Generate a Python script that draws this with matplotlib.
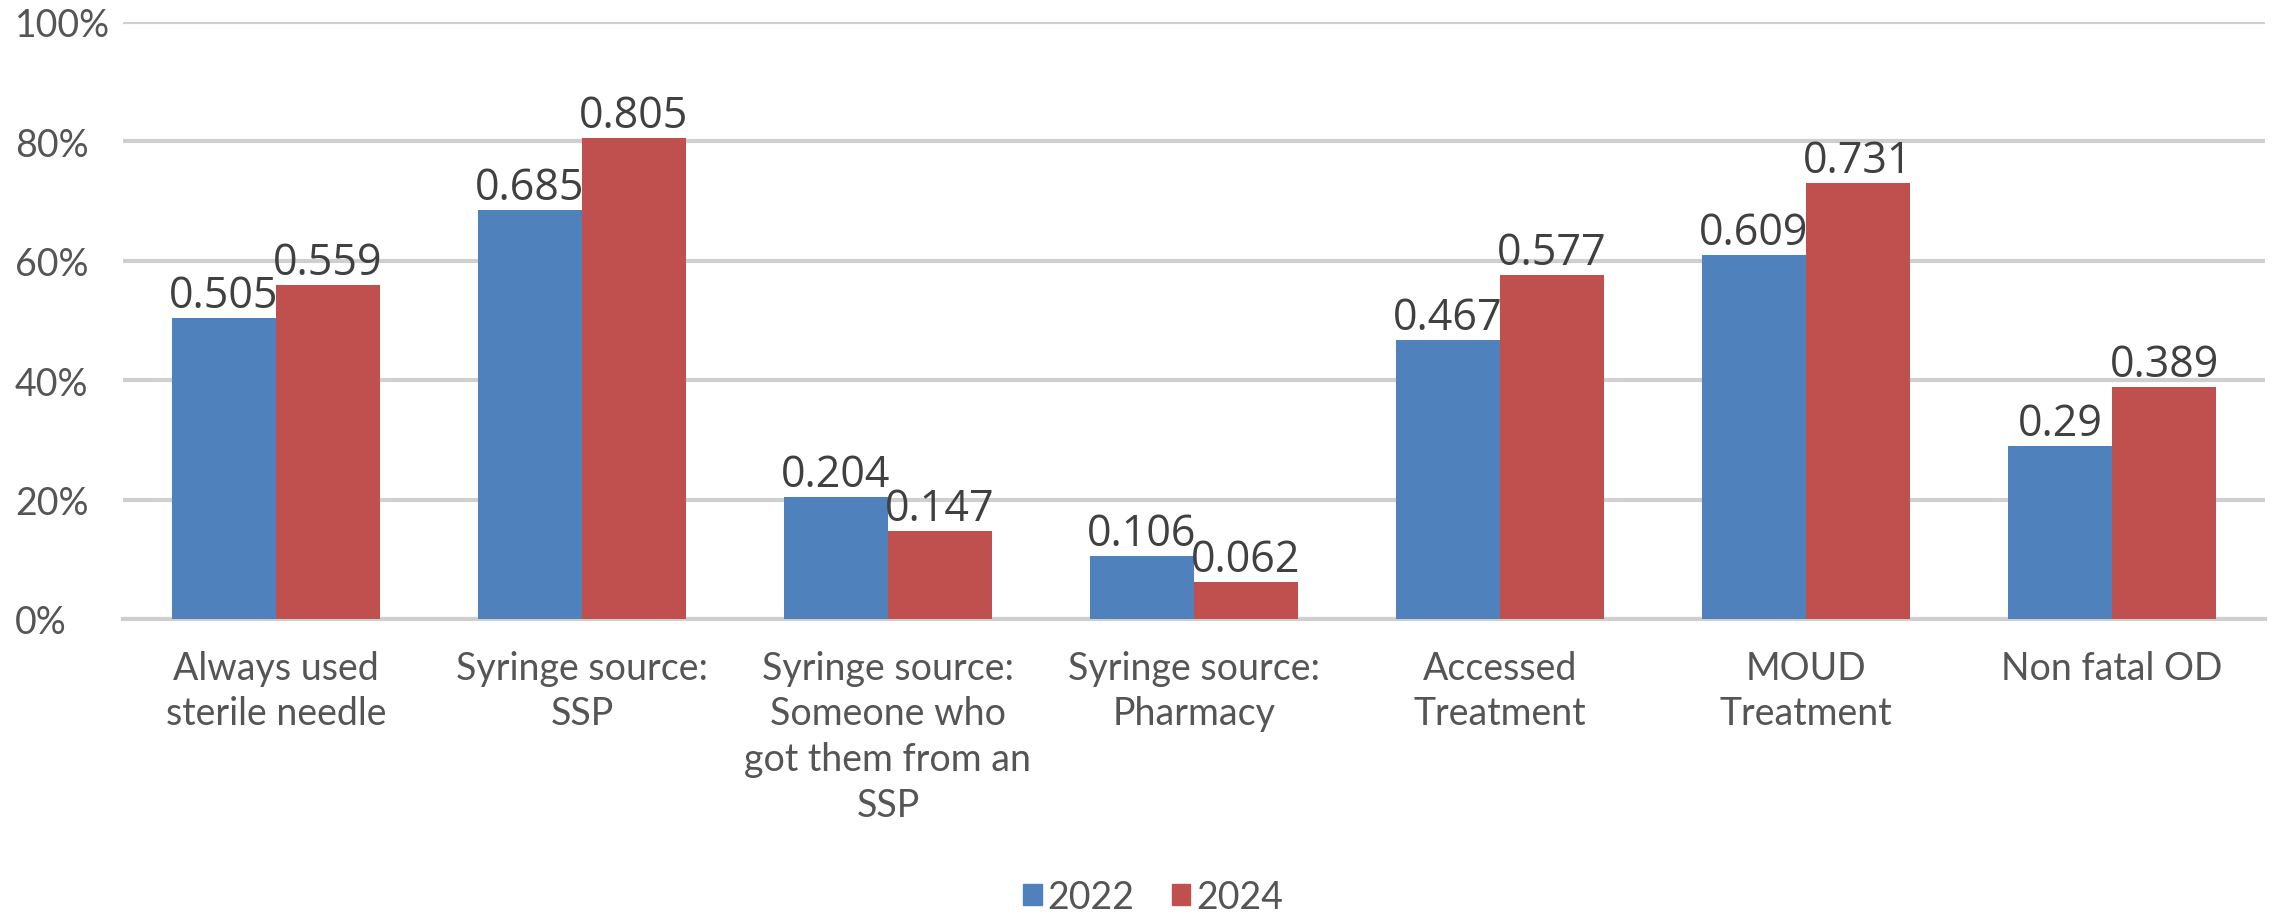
import matplotlib
matplotlib.use("Agg")
import matplotlib.pyplot as plt
import numpy as np
from matplotlib.patches import Patch

categories = [
    "Always used\nsterile needle",
    "Syringe source:\nSSP",
    "Syringe source:\nSomeone who\ngot them from an\nSSP",
    "Syringe source:\nPharmacy",
    "Accessed\nTreatment",
    "MOUD\nTreatment",
    "Non fatal OD",
]
values_2022 = [0.505, 0.685, 0.204, 0.106, 0.467, 0.609, 0.29]
values_2024 = [0.559, 0.805, 0.147, 0.062, 0.577, 0.731, 0.389]
series_names = ["2022", "2024"]
ytick_vals = [0, 0.2, 0.4, 0.6, 0.8, 1.0]
ytick_labels = ["0%", "20%", "40%", "60%", "80%", "100%"]

BLUE = "#4F81BD"
RED = "#C0504D"
GRID = "#CFCFCF"
TXT = "#555555"
DLBL = "#404040"

W, H = 2272, 920
fig = plt.figure(figsize=(W / 100, H / 100), dpi=100)
ax = fig.add_axes([123 / W, 1 - 620 / H, (2265 - 123) / W, (620 - 23) / H])

x = np.arange(len(categories))
bw = 0.34
b1 = ax.bar(x - bw / 2, values_2022, bw, color=BLUE, zorder=3)
b2 = ax.bar(x + bw / 2, values_2024, bw, color=RED, zorder=3)

for bars, vals in ((b1, values_2022), (b2, values_2024)):
    for rect, v in zip(bars, vals):
        ax.text(rect.get_x() + rect.get_width() / 2, v, f"{v:g}",
                ha="center", va="bottom", fontsize=31, color=DLBL,
                family="Open Sans", zorder=5)

ax.set_xlim(-0.5, len(categories) - 0.5)
ax.set_ylim(0, 1.0)
ax.set_yticks(ytick_vals)
ax.set_yticklabels(ytick_labels, family="Lato", fontsize=27, color=TXT)
for lbl in ax.get_yticklabels():
    lbl.set_horizontalalignment("left")
ax.tick_params(axis="y", length=0, pad=(123 - 15) * 0.72)
ax.set_xticks(x)
ax.set_xticklabels(categories, family="Lato", fontsize=27, color=TXT,
                   linespacing=1.34)
ax.tick_params(axis="x", length=0, pad=22)

ax.yaxis.grid(True, color=GRID, linewidth=3, zorder=0)
for s in ["top", "right", "left"]:
    ax.spines[s].set_visible(False)
ax.spines["bottom"].set_color(GRID)
ax.spines["bottom"].set_linewidth(3)

handles = [Patch(color=BLUE, label=series_names[0]),
           Patch(color=RED, label=series_names[1])]
leg = fig.legend(handles=handles, loc="center", bbox_to_anchor=(1153 / W, 1 - 898 / H),
                 ncol=2, frameon=False, prop={"family": "Lato", "size": 27},
                 handlelength=0.5, handleheight=0.5, handletextpad=0.15,
                 columnspacing=1.0)
for t in leg.get_texts():
    t.set_color(TXT)

fig.savefig("out.png", dpi=100, facecolor="white")
